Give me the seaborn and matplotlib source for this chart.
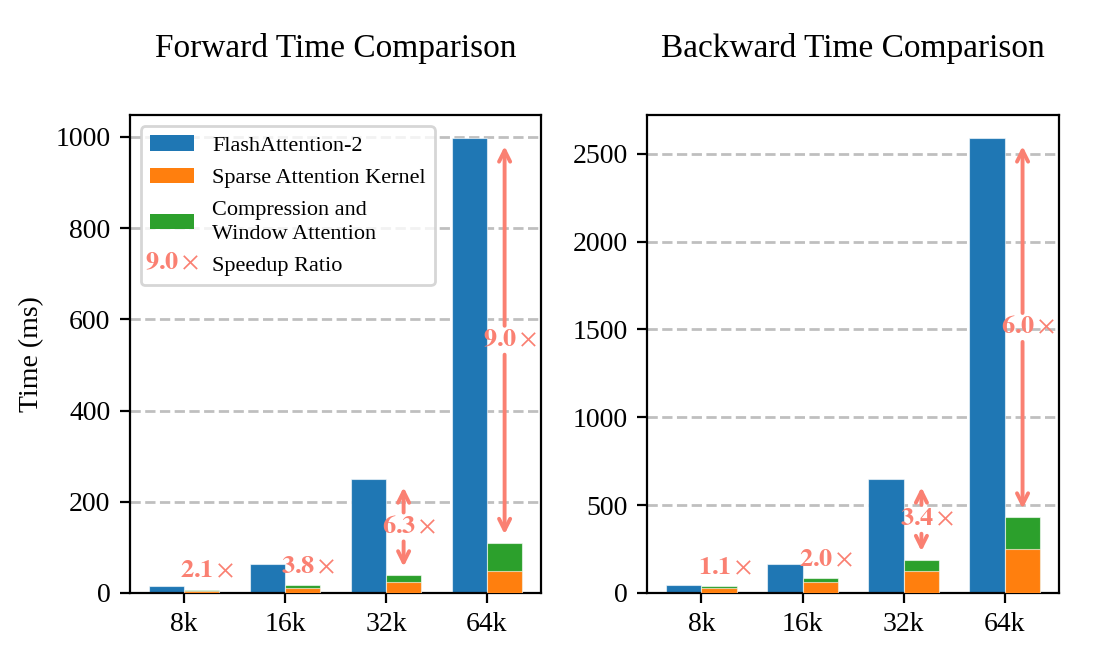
import matplotlib
matplotlib.use("Agg")
import matplotlib.pyplot as plt
import matplotlib.text as mtext
from matplotlib.patches import Patch
from matplotlib.legend_handler import HandlerBase
import seaborn as sns
import pandas as pd

# ---------------- data ----------------
seq_lengths = ["8k", "16k", "32k", "64k"]

fwd_flash = [16, 64, 250, 998]
fwd_sparse_kernel = [4.5, 11, 23.5, 47.5]
fwd_comp_window = [3, 6, 16, 63]
fwd_speedup = [2.1, 3.8, 6.3, 9.0]

bwd_flash = [43.5, 166, 649, 2590]
bwd_sparse_kernel = [28, 60, 124, 253]
bwd_comp_window = [11, 24, 66, 179]
bwd_speedup = [1.1, 2.0, 3.4, 6.0]

show_arrow = [False, False, True, True]

titles = ["Forward Time Comparison", "Backward Time Comparison"]
legend_labels = ["FlashAttention-2", "Sparse Attention Kernel",
                 "Compression and\nWindow Attention", "Speedup Ratio"]

# ---------------- style ----------------
BLUE, ORANGE, GREEN, SALMON = "#1f77b4", "#ff7f0e", "#2ca02c", "salmon"
plt.rcParams["font.family"] = ["Liberation Serif", "DejaVu Serif"]
plt.rcParams["mathtext.fontset"] = "stix"
plt.rcParams["font.size"] = 10
RATIO_FS = 9.5


def ratio_text(r):
    return r"$\mathbf{" + f"{r:.1f}" + r"}\times$"


class TextHandler(HandlerBase):
    def __init__(self, text):
        super().__init__()
        self.text = text

    def create_artists(self, legend, orig_handle, xdescent, ydescent,
                       width, height, fontsize, trans):
        t = mtext.Text(x=width / 2 - xdescent, y=height / 2 - ydescent,
                       text=self.text, ha="center", va="center",
                       color=SALMON, fontsize=RATIO_FS, transform=trans)
        return [t]


fig = plt.figure(figsize=(5.6, 3.27), dpi=200)
ax1 = fig.add_axes([0.116, 0.0933, 0.367, 0.7307])
ax2 = fig.add_axes([0.578, 0.0933, 0.3675, 0.7307])

EDGE = (1, 1, 1, 0.6)


def draw(ax, flash, sparse, comp, speedup, title):
    total = [s + c for s, c in zip(sparse, comp)]
    df_top = pd.DataFrame({
        "seq": seq_lengths * 2,
        "method": ["flash"] * 4 + ["ours"] * 4,
        "value": list(flash) + total,
    })
    df_low = pd.DataFrame({
        "seq": seq_lengths * 2,
        "method": ["flash"] * 4 + ["ours"] * 4,
        "value": [0] * 4 + list(sparse),
    })
    sns.barplot(data=df_top, x="seq", y="value", hue="method",
                hue_order=["flash", "ours"], order=seq_lengths,
                palette={"flash": BLUE, "ours": GREEN}, width=0.7,
                saturation=1, errorbar=None, legend=False, ax=ax,
                edgecolor=EDGE, linewidth=0.4, zorder=2)
    sns.barplot(data=df_low, x="seq", y="value", hue="method",
                hue_order=["flash", "ours"], order=seq_lengths,
                palette={"flash": BLUE, "ours": ORANGE}, width=0.7,
                saturation=1, errorbar=None, legend=False, ax=ax,
                edgecolor=EDGE, linewidth=0.4, zorder=3)

    for i, (f, t, r, arrow) in enumerate(zip(flash, total, speedup, show_arrow)):
        x = i + 0.175
        label = ratio_text(r)
        if arrow:
            mid = (f + t) / 2
            for target in (f, t):
                ax.annotate("", xy=(x, target), xytext=(x, mid), zorder=5,
                            arrowprops=dict(arrowstyle="->", color=SALMON, lw=1.4,
                                            shrinkA=5.2, shrinkB=3))
            ax.annotate(label, xy=(x, mid), xytext=(2.2, 0),
                        textcoords="offset points", ha="center", va="center",
                        color=SALMON, fontsize=RATIO_FS, zorder=6)
        else:
            ax.annotate(label, xy=(x, t), xytext=(2.2, 2.5),
                        textcoords="offset points", ha="center", va="bottom",
                        color=SALMON, fontsize=RATIO_FS, zorder=5)

    ax.set_xlim(-0.535, 3.535)
    ax.set_ylim(0, max(flash) * 1.05)
    ax.set_axisbelow(True)
    ax.yaxis.grid(True, linestyle="--", color="gray", alpha=0.5, lw=1)
    ax.xaxis.grid(False)
    ax.set_xlabel("")
    ax.set_ylabel("")
    ax.set_title(title, fontsize=12, pad=21)


draw(ax1, fwd_flash, fwd_sparse_kernel, fwd_comp_window, fwd_speedup, titles[0])
draw(ax2, bwd_flash, bwd_sparse_kernel, bwd_comp_window, bwd_speedup, titles[1])
ax1.set_ylabel("Time (ms)")

handles = [Patch(facecolor=BLUE), Patch(facecolor=ORANGE), Patch(facecolor=GREEN),
           Patch(facecolor="none", edgecolor="none")]
leg = ax1.legend(handles, legend_labels, loc="upper left", fontsize=8,
                 labelspacing=0.55,
                 handler_map={handles[3]: TextHandler(ratio_text(9.0))})
for txt in leg.get_texts():
    txt.set_linespacing(1.35)

fig.savefig("out.png", dpi=200)
